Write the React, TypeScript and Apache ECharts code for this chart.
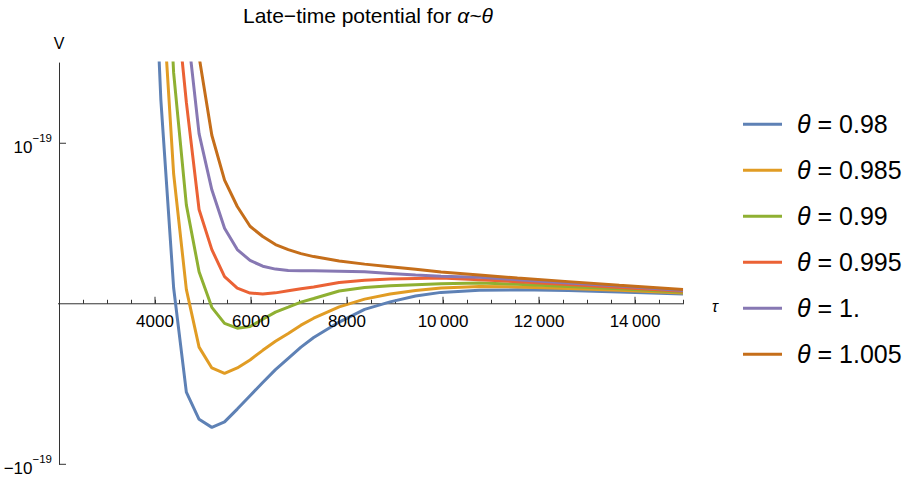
import { useEffect, useRef } from 'react';
import * as echarts from 'echarts';

// τ sample positions
const tau = [3857, 4122, 4388, 4653, 4918, 5184, 5449, 5714, 5980, 6245, 6510, 6776, 7041, 7306, 7837, 8367, 8898, 9429, 9959, 10755, 11551, 12612, 13673, 15000];

const thetaLabels = ['0.98', '0.985', '0.99', '0.995', '1.', '1.005'];

// V in units of 1e-19
const vTheta0980 = [3.1, 1.27, 0.1, -0.55, -0.72, -0.77, -0.736, -0.656, -0.573, -0.49, -0.41, -0.34, -0.27, -0.21, -0.114, -0.035, 0.012, 0.049, 0.071, 0.085, 0.087, 0.082, 0.073, 0.061];
const vTheta0985 = [5, 2.09, 0.81, 0.09, -0.27, -0.4, -0.433, -0.4, -0.35, -0.29, -0.234, -0.185, -0.133, -0.09, -0.019, 0.029, 0.061, 0.083, 0.098, 0.108, 0.105, 0.095, 0.084, 0.067];
const vTheta0990 = [6, 3.0, 1.44, 0.616, 0.2, -0.022, -0.122, -0.152, -0.142, -0.096, -0.052, -0.021, 0.01, 0.033, 0.08, 0.101, 0.113, 0.119, 0.125, 0.13, 0.122, 0.108, 0.093, 0.0725];
const vTheta0995 = [7, 4, 2.05, 1.256, 0.5875, 0.3375, 0.169, 0.098, 0.067, 0.061, 0.068, 0.081, 0.094, 0.105, 0.132, 0.146, 0.154, 0.158, 0.161, 0.15, 0.138, 0.12, 0.102, 0.0775];
const vTheta1000 = [8, 5, 3, 1.77, 1.06, 0.71, 0.47, 0.3375, 0.27, 0.234, 0.216, 0.208, 0.206, 0.205, 0.202, 0.199, 0.189, 0.179, 0.171, 0.165, 0.15, 0.13, 0.11, 0.083];
const vTheta1005 = [9, 6, 4, 2.3, 1.54, 1.05, 0.77, 0.606, 0.483, 0.419, 0.369, 0.3375, 0.3125, 0.294, 0.267, 0.247, 0.231, 0.215, 0.198, 0.18, 0.16, 0.138, 0.116, 0.089];

const colors = ['#5E81B5', '#E19C24', '#8FB032', '#EB6235', '#8778B3', '#C56E1A'];

const xMajorTicks = [4000, 6000, 8000, 10000, 12000, 14000];
const yTicks = [-1, 1];
const yTickLabels = ['−10', '10'];
const yTickExponent = '−19';
const xAxisLineExtent = [1730, 15250];
const xAxisName = 'τ';

const FONT = '"Liberation Sans", Arial, Helvetica, sans-serif';
const AXIS = '#333';

const fmtX = (v: number) => {
  const s = String(v);
  return s.length > 4 ? s.slice(0, -3) + '\u2009' + s.slice(-3) : s;
};

export default function App() {
  const ref = useRef<HTMLDivElement>(null);

  useEffect(() => {
    const chart = echarts.init(ref.current!, null, { renderer: 'svg' });
    const valueSets = [vTheta0980, vTheta0985, vTheta0990, vTheta0995, vTheta1000, vTheta1005];
    const names = thetaLabels.map((t) => `θ = ${t}`);

    const curveSeries = valueSets.map((vals, i) => ({
      name: names[i],
      type: 'line',
      data: tau.map((t, j) => [t, vals[j]]),
      symbol: 'none',
      showSymbol: false,
      lineStyle: { color: colors[i], width: 3 },
      itemStyle: { color: colors[i] },
      clip: true,
      z: 3,
    }));

    chart.setOption({
      animation: false,
      title: {
        text: '{n|Late−time potential for }{i|α~θ}',
        left: 243,
        top: 3,
        padding: 0,
        textStyle: {
          fontWeight: 'normal',
          fontSize: 21,
          rich: {
            n: { fontFamily: FONT, fontSize: 21, fontWeight: 'normal', color: '#000', lineHeight: 25 },
            i: { fontFamily: FONT, fontSize: 21, fontWeight: 'normal', color: '#000', fontStyle: 'italic', lineHeight: 25 },
          },
        },
      },
      grid: { left: 59, top: 63, width: 624, height: 401.3, outerBoundsMode: 'none', containLabel: false },
      legend: {
        data: names,
        orient: 'vertical',
        left: 743,
        top: 109.3,
        padding: 0,
        icon: 'rect',
        itemWidth: 39,
        itemHeight: 3,
        itemGap: 16,
        selectedMode: false,
        formatter: (name: string) => `{i|θ}{n|${name.slice(1)}}`,
        textStyle: {
          fontFamily: FONT,
          fontSize: 25,
          color: '#000',
          lineHeight: 30,
          rich: {
            i: { fontFamily: FONT, fontSize: 25, fontStyle: 'italic', color: '#000', lineHeight: 30, padding: [0, 0, 0, 10] },
            n: { fontFamily: FONT, fontSize: 25, color: '#000', lineHeight: 30 },
          },
        },
      },
      xAxis: {
        type: 'value',
        min: 2000,
        max: 15000,
        interval: 500,
        axisLine: { show: false, onZero: true },
        axisTick: { show: true, inside: true, length: 4, lineStyle: { color: AXIS, width: 1 } },
        axisLabel: { show: false },
        splitLine: { show: false },
      },
      yAxis: {
        type: 'value',
        min: -1,
        max: 1.5,
        interval: 1,
        name: 'V',
        nameLocation: 'end',
        nameGap: 12,
        nameTextStyle: { fontFamily: FONT, fontSize: 16, color: '#000' },
        axisLine: { show: true, onZero: false, lineStyle: { color: AXIS, width: 1 } },
        axisTick: { show: false },
        axisLabel: { show: false },
        splitLine: { show: false },
      },
      series: [
        {
          name: 'axis',
          type: 'line',
          data: xAxisLineExtent.map((x) => [x, 0]),
          symbol: 'none',
          clip: false,
          silent: true,
          lineStyle: { color: AXIS, width: 1 },
          z: 2,
        },
        {
          name: 'ticks',
          type: 'custom',
          silent: true,
          z: 4,
          data: [
            ...xMajorTicks.map((v) => [v, 0, 0, -1]),
            ...yTicks.map((v, i) => [2000, v, 1, i]),
            [15000, 0, 2, -1],
          ],
          renderItem: (_params: any, api: any) => {
            const p = api.coord([api.value(0), api.value(1)]);
            const kind = api.value(2);
            if (kind === 2) {
              return {
                type: 'text',
                x: p[0] + 32,
                y: p[1] + 3,
                style: { text: xAxisName, align: 'center', verticalAlign: 'middle', fontSize: 16, fontStyle: 'italic', fontFamily: FONT, fill: '#000' },
              };
            }
            if (kind === 0) {
              return {
                type: 'group',
                children: [
                  { type: 'line', shape: { x1: p[0], y1: p[1], x2: p[0], y2: p[1] - 7 }, style: { stroke: AXIS, lineWidth: 1 } },
                  {
                    type: 'text',
                    x: p[0],
                    y: p[1] + 18,
                    style: { text: fmtX(api.value(0)), align: 'center', verticalAlign: 'middle', fontSize: 17, fontFamily: FONT, fill: '#000' },
                  },
                ],
              };
            }
            const lbl = yTickLabels[api.value(3)];
            return {
              type: 'group',
              children: [
                { type: 'line', shape: { x1: p[0], y1: p[1], x2: p[0] + 7, y2: p[1] }, style: { stroke: AXIS, lineWidth: 1 } },
                {
                  type: 'text',
                  x: p[0] - 7,
                  y: p[1] + 1,
                  style: {
                    text: `{b|${lbl}}{s|${yTickExponent}}`,
                    align: 'right',
                    verticalAlign: 'middle',
                    fill: '#000',
                    fontFamily: FONT,
                    fontSize: 17,
                    rich: {
                      b: { fontFamily: FONT, fontSize: 17, fill: '#000', lineHeight: 24, verticalAlign: 'bottom' },
                      s: { fontFamily: FONT, fontSize: 11.5, fill: '#000', lineHeight: 14, verticalAlign: 'top' },
                    },
                  },
                },
              ],
            };
          },
        },
        ...curveSeries,
      ],
    });

    return () => chart.dispose();
  }, []);

  return <div ref={ref} style={{ position: 'absolute', left: 0, top: 0, width: 917, height: 481 }} />;
}
